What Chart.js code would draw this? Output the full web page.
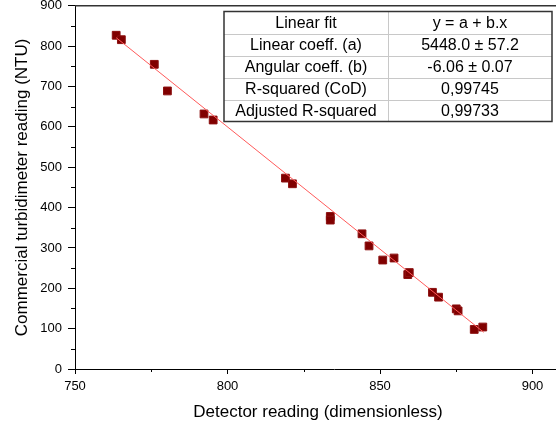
<!DOCTYPE html>
<html>
<head>
<meta charset="utf-8">
<script src="https://cdn.jsdelivr.net/npm/chart.js@4"></script>
<style>
    html, body { margin: 0; padding: 0; background: #fff; overflow: hidden; }
    #wrap { width: 556px; height: 427px; overflow: hidden; position: relative; }
    #chart { position: absolute; left: 0; top: -8px; }
</style>
</head>
<body>
<div id="wrap"><canvas id="chart" width="600" height="435"></canvas></div>
<script>
/* Leituras do detector x turbidímetro comercial */
const detectorReading = [763.5, 765.2, 776.0, 780.3, 792.3, 795.3, 819.0, 821.3, 833.7, 833.7, 844.1,
                         846.4, 850.9, 854.6, 859.1, 859.6, 867.2, 869.2, 875.0, 875.6, 880.9, 883.7];
const turbidimeterNTU = [827, 816, 755, 689, 632, 617, 473, 459, 378, 369, 335,
                         305, 270, 275, 234, 239, 190, 178, 149, 144, 98, 104];

/* Reta ajustada (extremos) */
const fitX = [763.5, 884];
const fitY = [821, 91];

/* Tabela do ajuste */
const fitLabels = ['Linear fit', 'Linear coeff. (a)', 'Angular coeff. (b)', 'R-squared (CoD)', 'Adjusted R-squared'];
const fitValues = ['y = a + b.x', '5448.0 \u00b1 57.2', '-6.06 \u00b1 0.07', '0,99745', '0,99733'];

/* Eixos */
const xMajorTicks = [750, 800, 850, 900];
const xMinorTicks = [775, 825, 875];
const yMinorTicks = [50, 150, 250, 350, 450, 550, 650, 750, 850];
const xTitle = 'Detector reading (dimensionless)';
const yTitle = 'Commercial turbidimeter reading (NTU)';

const FONT = "'Liberation Sans', Arial, sans-serif";
const SHIFT = 8; // canvas deslocado para cima

// desenha ticks menores, moldura superior, título do eixo x e a tabela
const extrasPlugin = {
    id: 'extras',
    afterDraw(chart) {
        const { ctx, chartArea, scales } = chart;
        ctx.save();
        ctx.strokeStyle = '#000';
        ctx.lineWidth = 1;
        ctx.beginPath();
        yMinorTicks.forEach(v => {
            const y = Math.round(scales.y.getPixelForValue(v)) + 0.5;
            ctx.moveTo(chartArea.left - 4, y);
            ctx.lineTo(chartArea.left, y);
        });
        xMinorTicks.forEach(v => {
            const x = Math.round(scales.x.getPixelForValue(v)) + 0.5;
            ctx.moveTo(x, chartArea.bottom);
            ctx.lineTo(x, chartArea.bottom + 3);
        });
        ctx.stroke();

        // linha de topo
        ctx.strokeStyle = '#333';
        ctx.lineWidth = 1.5;
        ctx.beginPath();
        ctx.moveTo(chartArea.left, chartArea.top);
        ctx.lineTo(chartArea.right, chartArea.top);
        ctx.stroke();

        // título do eixo x (centrado na parte visível)
        ctx.fillStyle = '#000';
        ctx.font = '17px ' + FONT;
        ctx.textAlign = 'center';
        ctx.textBaseline = 'middle';
        ctx.fillText(xTitle, 318, 412 + SHIFT);

        // tabela
        const left = 224, right = 552, mid = 388, top = 11.5 + SHIFT, rowH = 22;
        const bottom = top + rowH * fitLabels.length;
        ctx.fillStyle = '#fff';
        ctx.fillRect(left, top, right - left, bottom - top);
        ctx.strokeStyle = '#c8c8c8';
        ctx.lineWidth = 1;
        ctx.beginPath();
        for (let i = 1; i < fitLabels.length; i++) {
            const y = Math.round(top + rowH * i) + 0.5;
            ctx.moveTo(left, y);
            ctx.lineTo(right, y);
        }
        ctx.moveTo(mid + 0.5, top);
        ctx.lineTo(mid + 0.5, bottom);
        ctx.stroke();
        ctx.strokeStyle = '#333';
        ctx.lineWidth = 1.5;
        ctx.strokeRect(left, top, right - left, bottom - top);

        ctx.fillStyle = '#000';
        ctx.font = '16px ' + FONT;
        fitLabels.forEach((t, i) => {
            const y = top + rowH * i + rowH / 2 + 1;
            ctx.fillText(t, (left + mid) / 2, y);
            ctx.fillText(fitValues[i], (mid + right) / 2, y);
        });
        ctx.restore();
    }
};

new Chart(document.getElementById('chart').getContext('2d'), {
    type: 'scatter',
    data: {
        datasets: [
            {
                label: 'fit',
                type: 'line',
                data: fitX.map((x, i) => ({ x, y: fitY[i] })),
                borderColor: '#ff5a5a',
                borderWidth: 1,
                pointRadius: 0,
                fill: false
            },
            {
                label: 'data',
                data: detectorReading.map((x, i) => ({ x, y: turbidimeterNTU[i] })),
                pointStyle: 'rect',
                pointRadius: 5.5,
                backgroundColor: '#800000',
                borderColor: '#8c1010',
                borderWidth: 1
            }
        ]
    },
    options: {
        responsive: false,
        animation: false,
        layout: { padding: 0 },
        plugins: { legend: { display: false }, tooltip: { enabled: false } },
        scales: {
            x: {
                type: 'linear',
                min: 750,
                max: 920,
                afterBuildTicks: s => { s.ticks = xMajorTicks.map(v => ({ value: v })); },
                afterFit: s => { s.height = 58; },
                grid: { drawOnChartArea: false, drawTicks: true, tickLength: 5, color: '#000' },
                border: { display: true, color: '#000', width: 1 },
                ticks: { color: '#000', padding: 5, font: { family: FONT, size: 13 } },
                title: { display: false }
            },
            y: {
                min: 0,
                max: 900,
                ticks: { stepSize: 100, color: '#000', padding: 6, font: { family: FONT, size: 13 } },
                afterFit: s => { s.width = 75; },
                grid: { drawOnChartArea: false, drawTicks: true, tickLength: 7, color: '#000' },
                border: { display: true, color: '#000', width: 1 },
                title: {
                    display: true,
                    text: yTitle,
                    color: '#000',
                    font: { family: FONT, size: 17 },
                    padding: { top: 12, bottom: 0 }
                }
            }
        }
    },
    plugins: [extrasPlugin]
});
</script>
</body>
</html>
